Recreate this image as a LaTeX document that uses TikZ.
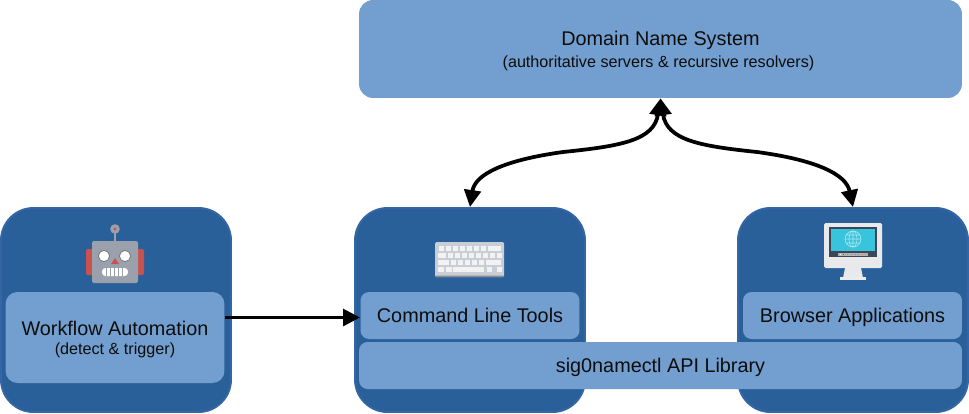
\documentclass[tikz,border=0pt]{standalone}
\usepackage{fontspec}
\setmainfont{Liberation Sans}
\usepackage{tikz}
\usetikzlibrary{arrows.meta,positioning}
\definecolor{outerblue}{HTML}{2A6099}
\definecolor{edgeblue}{HTML}{3465A4}
\definecolor{lightblue}{HTML}{729FCF}
\definecolor{botgrey}{HTML}{9AA0AC}
\definecolor{botred}{HTML}{C9524F}
\definecolor{keygrey}{HTML}{C9CDD5}
\definecolor{bezel}{HTML}{3D4657}
\definecolor{scrcyan}{HTML}{38C4DC}
\definecolor{casegrey}{HTML}{E9E9EB}
\newcommand{\subf}{\fontsize{9.2}{11}\selectfont}
\begin{document}
\begin{tikzpicture}[x=0.02cm,y=-0.02cm,font=\fontsize{11.28}{13}\selectfont,
  ar/.style={line width=0.75mm,-{Triangle[length=3.4mm,width=3.3mm]}},
  arr/.style={line width=0.75mm,{Triangle[length=3.4mm,width=3.3mm]}-{Triangle[length=3.4mm,width=3.3mm]}},
  outer/.style={draw=edgeblue,line width=0.4mm,fill=outerblue,rounded corners=6.5mm,minimum width=4.6cm,minimum height=4.08cm,inner sep=0},
  lt/.style={fill=lightblue,rounded corners=1.7mm,inner sep=0,align=center,text=black!95},
  one/.style={lt,text height=8.2pt,text depth=0.8pt,minimum height=0.94cm}]
\useasboundingbox (0,0) rectangle (969,413);
\node[lt,rounded corners=2.8mm,minimum width=12.06cm,minimum height=1.96cm] (dns) at (660.5,49) {\rule{0pt}{10.5pt}Domain Name System\\[-0.3mm]{\subf (authoritative servers \& recursive resolvers)\hspace*{2.3pt}}};

\node[outer] (wf) at (116,310) {};
\node[outer] (cli) at (470,310) {};
\node[outer] (web) at (853,310) {};
\node[lt,rounded corners=2.4mm,minimum width=4.38cm,minimum height=1.82cm] (wfi) at (115,337.5) {\rule{0pt}{10.5pt}Workflow Automation\\[-0.9mm]{\subf (detect \& trigger)}};
\node[one,minimum width=4.38cm] (clii) at (470,315.5) {Command Line Tools};
\node[one,minimum width=4.38cm] (webi) at (852.5,315.5) {Browser Applications};
\node[one,minimum width=12.06cm] (api) at (660.5,365.5) {sig0namectl API Library};

% robot
\fill[botred,rounded corners=0.4mm] (86,249) rectangle (144,275);
\draw[botgrey,line width=0.4mm] (115,229) -- (115,242);
\fill[botgrey] (115,229) circle[radius=4.8];
\fill[botred] (115,229) circle[radius=1.7];
\fill[botgrey,rounded corners=0.4mm] (92,241) rectangle (138,283);
\foreach \ex in {104,125} \filldraw[fill=white,draw=black!55,line width=0.15mm] (\ex,256) circle[radius=5.6];
\fill[botred] (115,258) -- (119,264) -- (111,264) -- cycle;
\fill[white,rounded corners=0.7mm] (102,268) rectangle (128,276);
\foreach \tx in {106.5,110.5,...,124} \draw[botgrey,line width=0.15mm] (\tx,268) -- (\tx,276);

% keyboard
\fill[keygrey,rounded corners=0.3mm] (435,242) rectangle (504,277);
\fill[black!45,rounded corners=0.2mm] (435,275.5) rectangle (504,277);
\foreach \kx in {439,446,...,488} \fill[white!95!black] (\kx,246) rectangle +(5,5);
\fill[white!95!black] (492,246) rectangle (501,251);
\fill[white!95!black] (438,253) rectangle (446,258);
\foreach \kx in {448,455,...,497} \fill[white!95!black] (\kx,253) rectangle +(5,5);
\fill[white!95!black] (438,260) rectangle (449,265);
\foreach \kx in {451,458,...,486} \fill[white!95!black] (\kx,260) rectangle +(5,5);
\fill[white!95!black] (486,260) rectangle (501,265);
\foreach \kx in {438,446} \fill[white!95!black] (\kx,267) rectangle +(6,5);
\fill[white!95!black] (453,267) rectangle (484,272);
\foreach \kx in {487,497} \fill[white!95!black] (\kx,267) rectangle +(5,5);

% monitor
\fill[casegrey] (845,268) -- (861,268) -- (863,278) -- (843,278) -- cycle;
\fill[white!92!black] (840,277) rectangle (866,280);
\fill[casegrey,rounded corners=0.3mm] (824,223) rectangle (882,268);
\fill[bezel] (829,227) rectangle (877,257);
\fill[scrcyan] (831,229) rectangle (875,251);
\fill[black!30] (838,253) rectangle (868,256);
\foreach \dx/\dc in {840/white,843/green!60!black,847/orange,851/red!60,855/violet!60,858/blue!50,862/orange,865/red!60} \fill[\dc] (\dx,254) rectangle +(1,1);
\draw[white!60!scrcyan,line width=0.12mm] (853,239) circle[radius=8] (845,239) -- (861,239) (846,235) -- (860,235) (846,243) -- (860,243) (853,231) -- (853,247);
\draw[white!60!scrcyan,line width=0.12mm] (853,239) ellipse[x radius=4,y radius=8];

% links
\coordinate (ml) at (563,152);
\coordinate (mr) at (757,152);
\draw[arr] (cli.north) .. controls (475,174) and (505,160) .. (ml) .. controls (622,146) and (654,140) .. (dns.south);
\draw[arr] (web.north) .. controls (846,174) and (816,160) .. (mr) .. controls (699,146) and (667,140) .. (dns.south);
\draw[ar] ([yshift=-0.4mm]wfi.east |- clii.west) -- ([yshift=-0.4mm]clii.west);
\end{tikzpicture}
\end{document}
